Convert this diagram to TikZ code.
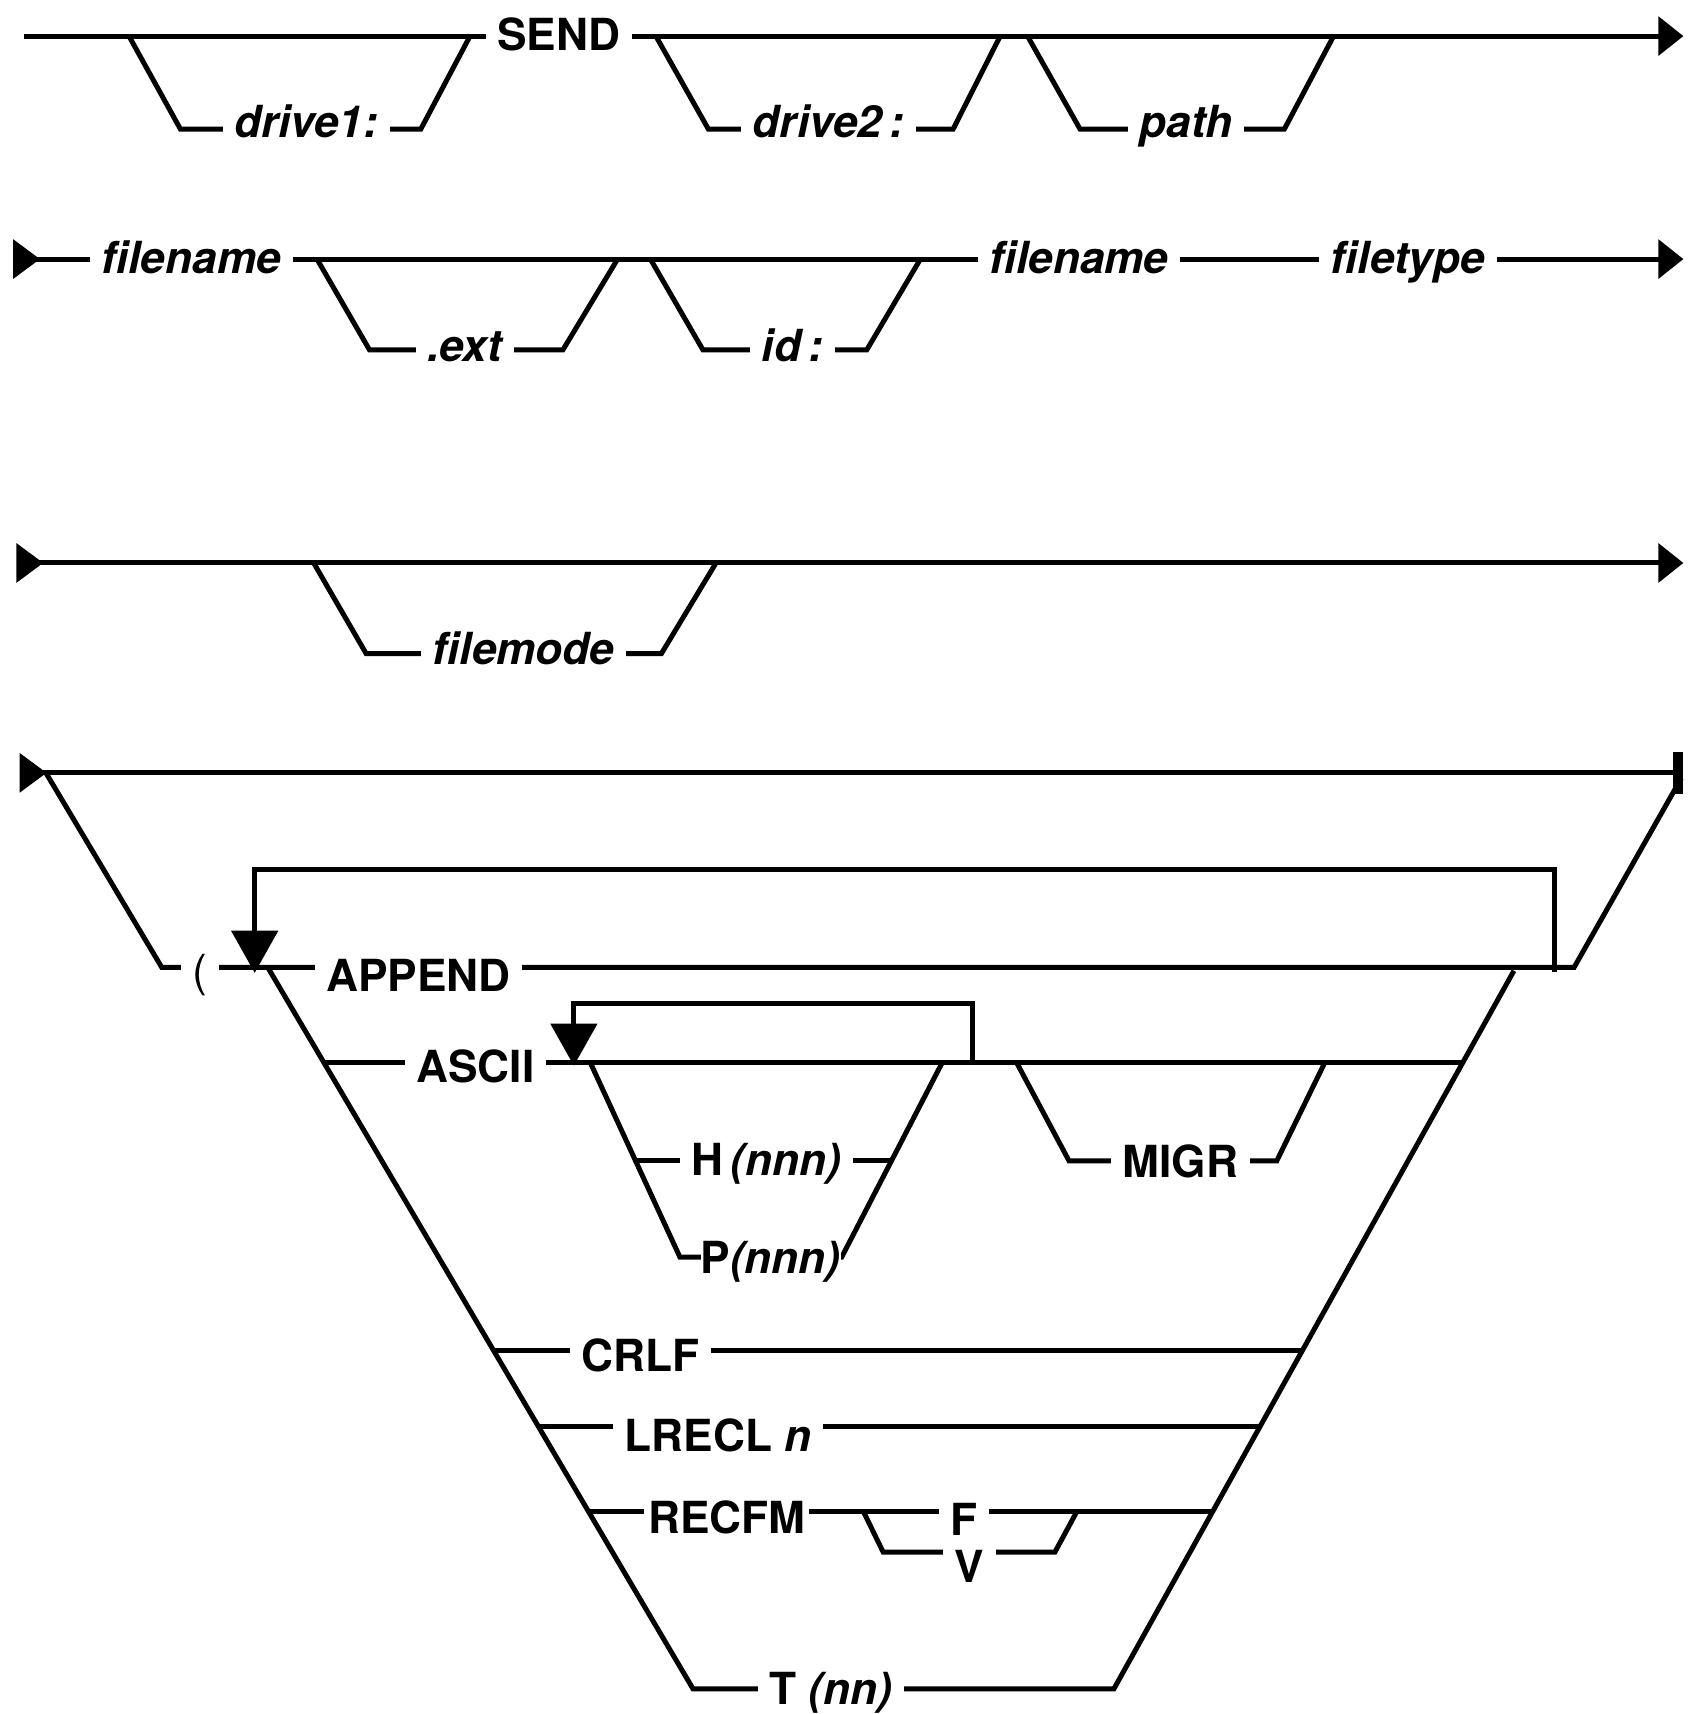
\documentclass[tikz,border=0pt]{standalone}
\usepackage{fontspec}
\setmainfont{TeX Gyre Heros}
\usetikzlibrary{arrows.meta}

\tikzset{
  rail/.style={line width=1.3pt, line join=miter},
  endarrow/.style={-{Triangle[length=6.5pt,width=10pt]}},
  startarrow/.style={{Triangle[reversed,length=7pt,width=10pt]}-{Triangle[length=6.5pt,width=10pt]}},
  startbar/.style={{Triangle[reversed,length=7pt,width=10pt]}-{Bar[width=11pt,line width=2.6pt]}},
  looparrow/.style={-{Triangle[length=11pt,width=12pt]}},
  word/.style={anchor=base, fill=white, inner xsep=3pt, inner ysep=1.5pt, font=\fontsize{11.5}{13}\selectfont\bfseries},
  var/.style={word, font=\fontsize{11.5}{13}\selectfont\bfseries\itshape}
}

\begin{document}
\begin{tikzpicture}[x=0.01cm, y=-0.01cm]
    \useasboundingbox (0,0) rectangle (1552,1568);

    % Define the points of the first line
    \coordinate (a1) at (22,33);
    \coordinate (a2) at (1540,33);
    \coordinate (b1) at (118,33);
    \coordinate (b2) at (165,118);
    \coordinate (b3) at (385,118);
    \coordinate (b4) at (430,33);
    \coordinate (c1) at (600,33);
    \coordinate (c2) at (648,118);
    \coordinate (c3) at (872,118);
    \coordinate (c4) at (915,33);
    \coordinate (p1) at (940,33);
    \coordinate (p2) at (988,118);
    \coordinate (p3) at (1175,118);
    \coordinate (p4) at (1220,33);

    % Draw the first line
    \draw[rail, endarrow] (a1) -- (a2);
    \draw[rail] (b1) -- (b2) -- (b3) -- (b4);
    \draw[rail] (c1) -- (c2) -- (c3) -- (c4);
    \draw[rail] (p1) -- (p2) -- (p3) -- (p4);

    \node[word] (send) at (511,46) {SEND};
    \node[var] (drvA) at (280,126) {drive1:};
    \node[var] (drvB) at (758,126) {drive2\,:};
    \node[var] (path) at (1085,126) {path};

    % Define the points of the second line
    \coordinate (f1) at (12,237);
    \coordinate (f2) at (1540,237);
    \coordinate (x1) at (290,237);
    \coordinate (x2) at (338,320);
    \coordinate (x3) at (515,320);
    \coordinate (x4) at (565,237);
    \coordinate (i1) at (595,237);
    \coordinate (i2) at (643,320);
    \coordinate (i3) at (793,320);
    \coordinate (i4) at (842,237);

    % Draw the second line
    \draw[rail, startarrow] (f1) -- (f2);
    \draw[rail] (x1) -- (x2) -- (x3) -- (x4);
    \draw[rail] (i1) -- (i2) -- (i3) -- (i4);

    \node[var] (fnA) at (175,250) {filename};
    \node[var] (ext) at (425,331) {.ext};
    \node[var] (id) at (725,331) {id\,:};
    \node[var] (fnB) at (987,250) {filename};
    \node[var] (ftype) at (1288,250) {filetype};

    % Define the points of the third line
    \coordinate (g1) at (15,515);
    \coordinate (g2) at (1540,515);
    \coordinate (m1) at (287,515);
    \coordinate (m2) at (335,598);
    \coordinate (m3) at (605,598);
    \coordinate (m4) at (655,515);

    % Draw the third line
    \draw[rail, startarrow] (g1) -- (g2);
    \draw[rail] (m1) -- (m2) -- (m3) -- (m4);

    \node[var] (fmode) at (479,608) {filemode};

    % Define the points of the options line
    \coordinate (h1) at (18,707);
    \coordinate (h2) at (1540,707);
    \coordinate (o1) at (42,707);
    \coordinate (o2) at (148,885);
    \coordinate (o3) at (1440,885);
    \coordinate (o4) at (1538,712);
    \coordinate (r1) at (1422,889);
    \coordinate (r2) at (1422,795);
    \coordinate (r3) at (233,795);
    \coordinate (r4) at (233,890);
    \coordinate (l1) at (245,885);
    \coordinate (l2) at (634,1545);
    \coordinate (l3) at (1019,1545);
    \coordinate (l4) at (1385,888);

    % Draw the options line and the repeat loop
    \draw[rail, startbar] (h1) -- (h2);
    \draw[rail] (o1) -- (o2) -- (o3) -- (o4);
    \draw[rail, looparrow] (r1) -- (r2) -- (r3) -- (r4);
    \draw[rail] (l1) -- (l2) -- (l3) -- (l4);

    % Define the points of the option rows
    \coordinate (q1) at (296,972);
    \coordinate (q2) at (1338,972);
    \coordinate (u1) at (890,972);
    \coordinate (u2) at (890,918);
    \coordinate (u3) at (525,918);
    \coordinate (u4) at (525,975);
    \coordinate (hp1) at (540,972);
    \coordinate (hp2) at (622,1150);
    \coordinate (hp3) at (770,1150);
    \coordinate (hp4) at (862,972);
    \coordinate (hp5) at (581,1062);
    \coordinate (hp6) at (815,1062);
    \coordinate (mg1) at (930,972);
    \coordinate (mg2) at (978,1062);
    \coordinate (mg3) at (1168,1062);
    \coordinate (mg4) at (1212,972);
    \coordinate (cr1) at (451,1235);
    \coordinate (cr2) at (1192,1235);
    \coordinate (lr1) at (492,1305);
    \coordinate (lr2) at (1153,1305);
    \coordinate (rf1) at (538,1383);
    \coordinate (rf2) at (1109,1383);
    \coordinate (fv1) at (790,1383);
    \coordinate (fv2) at (808,1420);
    \coordinate (fv3) at (965,1420);
    \coordinate (fv4) at (985,1383);

    % Draw the option rows
    \draw[rail] (q1) -- (q2);
    \draw[rail, looparrow] (u1) -- (u2) -- (u3) -- (u4);
    \draw[rail] (hp1) -- (hp2) -- (hp3) -- (hp4);
    \draw[rail] (hp5) -- (hp6);
    \draw[rail] (mg1) -- (mg2) -- (mg3) -- (mg4);
    \draw[rail] (cr1) -- (cr2);
    \draw[rail] (lr1) -- (lr2);
    \draw[rail] (rf1) -- (rf2);
    \draw[rail] (fv1) -- (fv2) -- (fv3) -- (fv4);

    % Place the labels
    \node[word, font=\fontsize{11.5}{13}\selectfont] (paren) at (183,902) {(};
    \node[word] (append) at (383,907) {APPEND};
    \node[word] (ascii) at (435,990) {ASCII};
    \node[word] (hnnn) at (701,1075) {H\,\textit{(nnn)}};
    \node[word, inner xsep=0pt] (pnnn) at (705,1165) {P\textit{(nnn)}};
    \node[word] (migr) at (1080,1077) {MIGR};
    \node[word] (crlf) at (586,1255) {CRLF};
    \node[word] (lrecl) at (657,1328) {LRECL \textit{n}};
    \node[word, inner xsep=1pt] (recfm) at (665,1403) {RECFM};
    \node[word] (fix) at (882,1405) {F};
    \node[word, inner ysep=4pt] (vary) at (887,1448) {V};
    \node[word, inner ysep=0.5pt] (tnn) at (760,1559) {T \textit{(nn)}};

\end{tikzpicture}
\end{document}
